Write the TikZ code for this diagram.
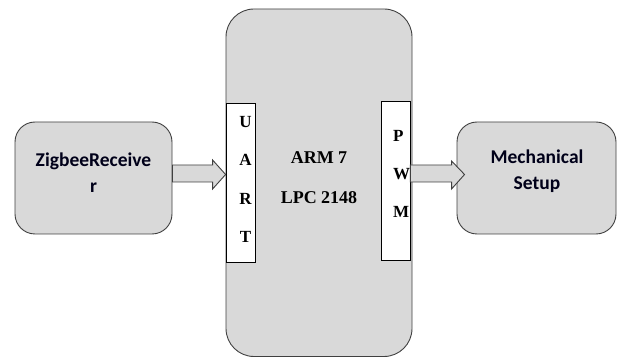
\documentclass[tikz,border=0pt]{standalone}
\usepackage{fontspec}
\setmainfont{Liberation Serif}
\newfontfamily\calib{Carlito}
\usetikzlibrary{calc}
\definecolor{boxgray}{HTML}{D9D9D9}
\definecolor{edgegray}{HTML}{404040}
\tikzset{
  bigbox/.style={draw=edgegray, line width=0.9pt, fill=boxgray, rectangle, rounded corners=28pt, inner sep=0pt},
  sidebox/.style={draw=edgegray, line width=0.9pt, fill=boxgray, rectangle, rounded corners=20pt, inner sep=0pt},
  portbox/.style={draw=black, line width=0.8pt, fill=white, rectangle, inner sep=0pt},
  sanslabel/.style={font=\calib\bfseries\fontsize{19.5}{25.5}\selectfont, align=center, inner sep=0pt, text=black!90!blue},
  seriflabel/.style={font=\bfseries\fontsize{18}{40}\selectfont, align=center, inner sep=0pt},
  portlabel/.style={font=\bfseries\fontsize{17}{38.4}\selectfont, inner sep=0pt},
  hollow/.style={draw=edgegray, line width=0.9pt, fill=boxgray, line join=miter}
}
\begin{document}
\begin{tikzpicture}[x=1pt,y=-1pt]
\useasboundingbox (0,0) rectangle (622,358);
% main controller box
\node[bigbox, minimum width=186pt, minimum height=347.5pt] (arm) at (319,182.75) {};
\node[seriflabel] (armtxt) at (319,178) {ARM 7\\LPC 2148};
% ports
\node[portbox, minimum width=29pt, minimum height=159pt] (uart) at (240.5,182.5) {};
\node[portbox, minimum width=29pt, minimum height=159pt] (pwm) at (395.5,180.5) {};
\node[portlabel, align=center] (uarttxt) at (245.5,179.5) {U\\A\\R\\T};
\node[portlabel, align=left, anchor=west] (pwmtxt) at (393,174) {P\\W\\M};
% side boxes
\node[sidebox, minimum width=157pt, minimum height=112pt] (zig) at (93.5,178) {};
\node[sanslabel] (zigtxt) at (93.5,172.5) {ZigbeeReceive\\r};
\node[sidebox, minimum width=159pt, minimum height=112pt] (mech) at (536.5,178) {};
\node[sanslabel] (mechtxt) at (537,171) {Mechanical\\Setup};
% block arrows
\coordinate (t1) at (uart.west |- zig.east);
\draw[hollow] ($(zig.east)+(0,-13)$) -- ($(t1)+(-13,-13)$) -- ($(t1)+(-13,-18)$)
  -- ($(t1)+(0,-3.5)$) -- ($(t1)+(-13,11)$) -- ($(t1)+(-13,4)$) -- ($(zig.east)+(0,4)$) -- cycle;
\coordinate (s2) at (pwm.east |- mech.west);
\coordinate (t2) at ($(mech.west)+(8,0)$);
\draw[hollow] ($(s2)+(0,-13)$) -- ($(t2)+(-13,-13)$) -- ($(t2)+(-13,-17)$)
  -- ($(t2)+(0,-3.5)$) -- ($(t2)+(-13,11)$) -- ($(t2)+(-13,4)$) -- ($(s2)+(0,4)$) -- cycle;
\end{tikzpicture}
\end{document}
